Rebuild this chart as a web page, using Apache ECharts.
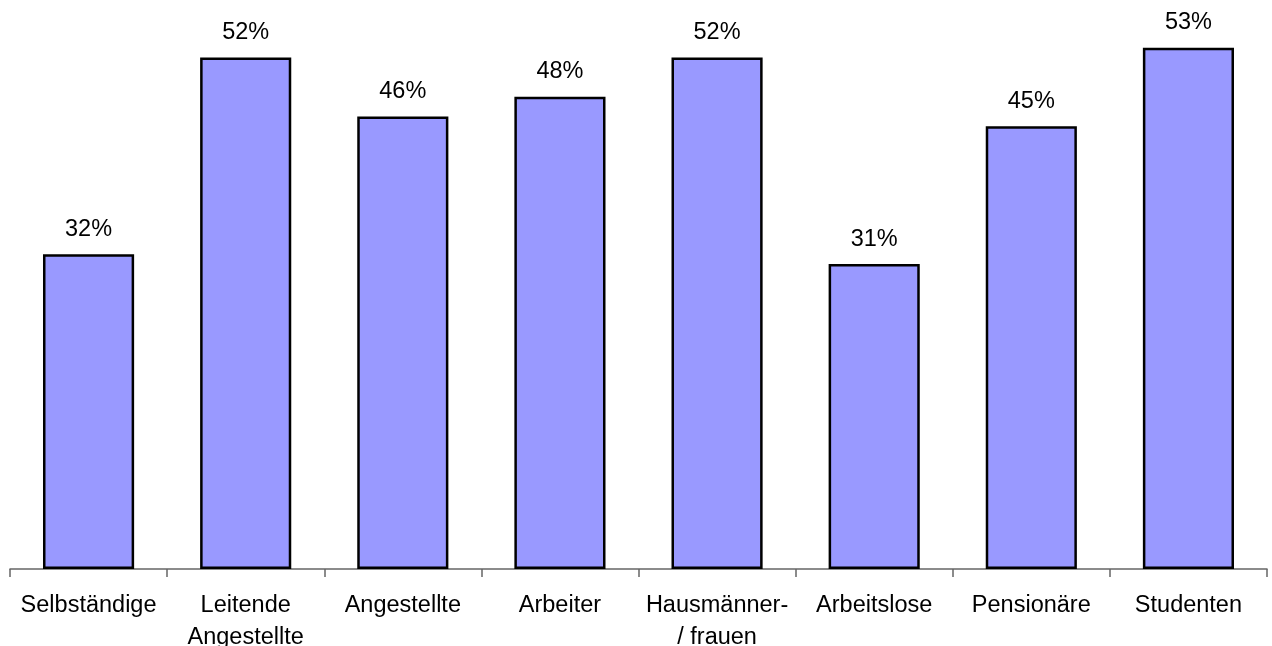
<!DOCTYPE html>
<html>
<head>
<meta charset="utf-8">
<script src="https://cdn.jsdelivr.net/npm/echarts@6/dist/echarts.min.js"></script>
<style>
html,body{margin:0;padding:0;background:#fff;}
#chart{width:1272px;height:646px;}
</style>
</head>
<body>
<div id="chart"></div>
<script>
const categories = ['Selbständige', 'Leitende\nAngestellte', 'Angestellte', 'Arbeiter', 'Hausmänner-\n/ frauen', 'Arbeitslose', 'Pensionäre', 'Studenten'];
const values = [32, 52, 46, 48, 52, 31, 45, 53];

const chart = echarts.init(document.getElementById('chart'), null, {renderer: 'canvas'});
chart.setOption({
  animation: false,
  backgroundColor: '#ffffff',
  grid: {left: 10, right: 5, top: 28, bottom: 77, containLabel: false, outerBoundsMode: 'none'},
  xAxis: {
    type: 'category',
    data: categories,
    boundaryGap: true,
    axisLine: {show: true, lineStyle: {color: '#666666', width: 1.5}},
    axisTick: {show: true, alignWithLabel: false, length: 8, lineStyle: {color: '#666666', width: 1.5}},
    axisLabel: {
      interval: 0, color: '#000', fontFamily: 'Liberation Sans, Arial, sans-serif',
      fontSize: 23.5, lineHeight: 32, margin: 21
    }
  },
  yAxis: {
    type: 'value', min: 0, max: 55,
    show: false,
    splitLine: {show: false}
  },
  series: [{
    type: 'bar',
    data: values,
    barWidth: '58%',
    itemStyle: {color: '#9999ff', borderColor: '#000', borderWidth: 2.5},
    label: {
      show: true, position: 'top', distance: 13,
      formatter: p => p.value + '%',
      color: '#000', fontFamily: 'Liberation Sans, Arial, sans-serif',
      fontSize: 23.5, lineHeight: 24
    }
  }]
});
</script>
</body>
</html>
